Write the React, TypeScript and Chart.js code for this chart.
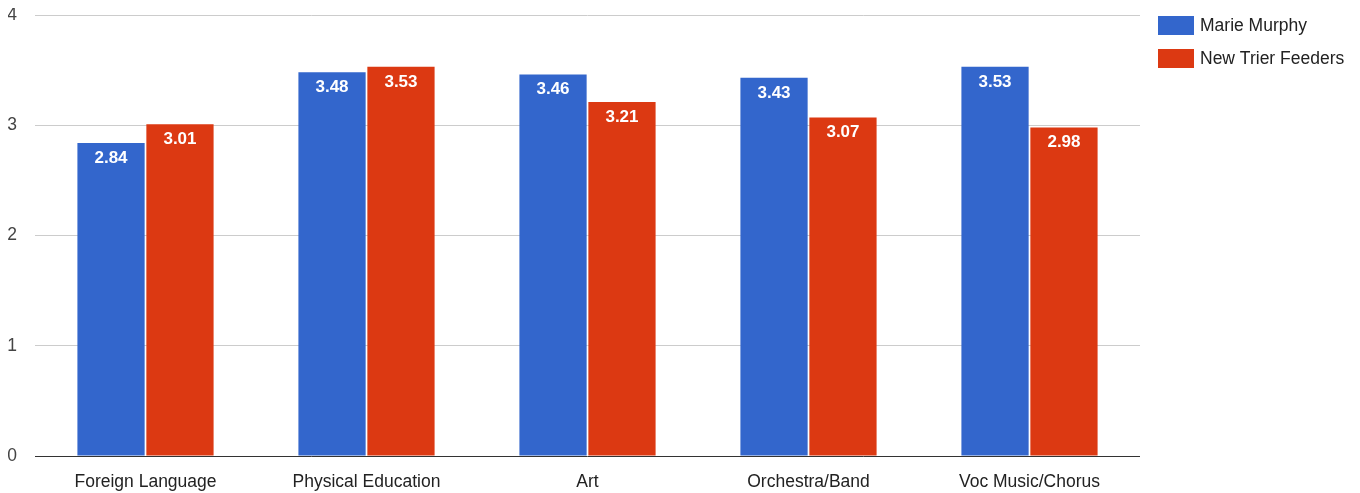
import React, { useEffect, useRef } from "react";
import { Chart, registerables } from "chart.js";

Chart.register(...registerables);

const categories = ["Foreign Language", "Physical Education", "Art", "Orchestra/Band", "Voc Music/Chorus"];
const marieMurphy = [2.84, 3.48, 3.46, 3.43, 3.53];
const newTrierFeeders = [3.01, 3.53, 3.21, 3.07, 2.98];
const seriesNames = ["Marie Murphy", "New Trier Feeders"];
const seriesColors = ["#3366CC", "#DC3912"];
const yTicks = [0, 1, 2, 3, 4];

const FONT = "'Liberation Sans', Arial, sans-serif";

const valueLabels = {
  id: "valueLabels",
  afterDatasetsDraw(chart: any) {
    const ctx = chart.ctx;
    ctx.save();
    ctx.fillStyle = "#ffffff";
    ctx.font = `bold 17px ${FONT}`;
    ctx.textAlign = "center";
    ctx.textBaseline = "middle";
    chart.data.datasets.forEach((ds: any, i: number) => {
      const meta = chart.getDatasetMeta(i);
      meta.data.forEach((bar: any, j: number) => {
        ctx.fillText(ds.data[j].toFixed(2), bar.x, bar.y + 15);
      });
    });
    ctx.restore();
  },
};

const customLegend = {
  id: "customLegend",
  afterDraw(chart: any) {
    const ctx = chart.ctx;
    ctx.save();
    ctx.font = `17.5px ${FONT}`;
    ctx.textAlign = "left";
    ctx.textBaseline = "middle";
    seriesNames.forEach((name, i) => {
      const y = 8 + i * 33;
      ctx.fillStyle = seriesColors[i];
      ctx.fillRect(1150, y, 36, 19);
      ctx.fillStyle = "#222222";
      ctx.fillText(name, 1192, y + 10);
    });
    ctx.restore();
  },
};

export default function App() {
  const ref = useRef<HTMLCanvasElement>(null);
  useEffect(() => {
    if (!ref.current) return;
    const chart = new Chart(ref.current, {
      type: "bar",
      data: {
        labels: categories,
        datasets: [
          { label: seriesNames[0], data: marieMurphy, backgroundColor: seriesColors[0] },
          { label: seriesNames[1], data: newTrierFeeders, backgroundColor: seriesColors[1] },
        ],
      },
      options: {
        animation: false,
        responsive: true,
        maintainAspectRatio: false,
        layout: { padding: { left: 0, right: 212, top: 7, bottom: 0 } },
        datasets: { bar: { categoryPercentage: 0.624, barPercentage: 0.975 } } as any,
        plugins: { legend: { display: false }, tooltip: { enabled: false } },
        scales: {
          x: {
            grid: { display: false },
            border: { display: false },
            ticks: { color: "#222222", font: { family: FONT, size: 17.5 }, padding: 8 },
            afterFit: (s: any) => { s.height = 37; s.paddingLeft = 0; s.paddingRight = 0; },
          },
          y: {
            min: 0,
            max: 4,
            afterBuildTicks: (s: any) => { s.ticks = yTicks.map((v) => ({ value: v })); },
            grid: {
              drawTicks: false,
              color: (c: any) => (c.tick && c.tick.value === 0 ? "#333333" : "#cccccc"),
              lineWidth: 1,
            },
            border: { display: false },
            ticks: { color: "#444444", font: { family: FONT, size: 17.5 }, padding: 18 },
            afterFit: (s: any) => { s.width = 27; s.paddingTop = 0; s.paddingBottom = 0; },
          },
        },
      },
      plugins: [valueLabels, customLegend],
    });
    return () => chart.destroy();
  }, []);
  return (
    <div style={{ width: 1344, height: 485 }}>
      <canvas ref={ref} />
    </div>
  );
}
